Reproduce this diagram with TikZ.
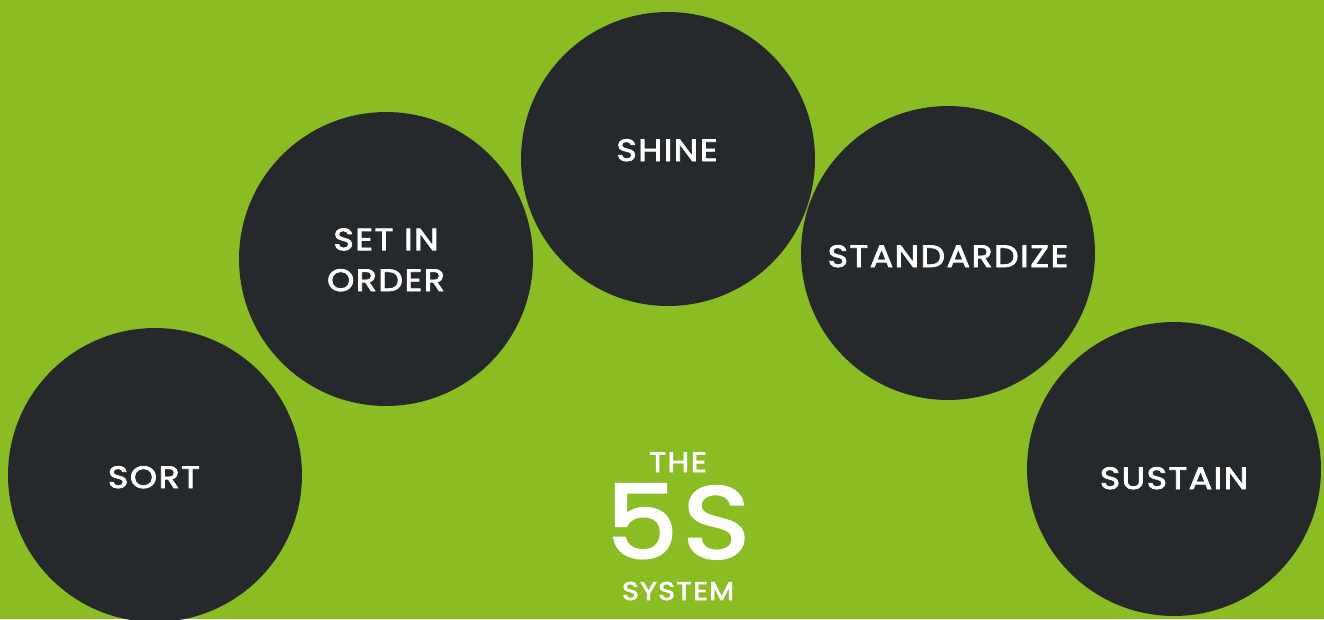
\documentclass[tikz,border=0pt]{standalone}
\usepackage{fontspec}
\setmainfont{Poppins}[FakeBold=2.6, FakeStretch=1.12, LetterSpace=5]
\usepackage{xcolor}
\definecolor{leafgreen}{RGB}{138,188,36}
\definecolor{coal}{RGB}{38,41,43}

\begin{document}
\begin{tikzpicture}[
        x=0.02cm, y=-0.02cm, % one unit is one pixel of the layout
        disc/.style={circle, fill=coal, minimum size=5.88cm, inner sep=0pt},
        word/.style={text=white, anchor=base, inner sep=0pt, font=\fontsize{17.6}{23.2}\selectfont, align=center},
    ]
        % Background
        \fill [leafgreen] (0,0) rectangle (1324,619);
        \useasboundingbox (0,0) rectangle (1324,619);

        % Define circles
        \node (sort)   [disc] at (155,475) {};
        \node (order)  [disc] at (386,259) {};
        \node (shine)  [disc] at (668,159) {};
        \node (std)    [disc] at (948,253) {};
        \node (sustain)[disc] at (1174,469) {};

        % Labels in the circles
        \node (sortL)    [word] at (154,488) {SORT};
        \node (orderL)   [word] at (386,291) {SET IN\\ORDER};
        \node (shineL)   [word] at (667,161) {SHINE};
        \node (stdL)     [word] at (948,267) {STANDARDIZE};
        \node (sustainL) [word] at (1174,489) {SUSTAIN};

        % Title in the middle
        \node (the)    [word, font=\fontsize{16}{16}\selectfont] at (678,472) {THE};
        \node (five)   [word, font=\fontsize{58}{58}\selectfont] at (678,558) {5S};
        \node (system) [word, font=\fontsize{14.6}{15}\selectfont] at (678,600) {SYSTEM};
    \end{tikzpicture}
\end{document}
